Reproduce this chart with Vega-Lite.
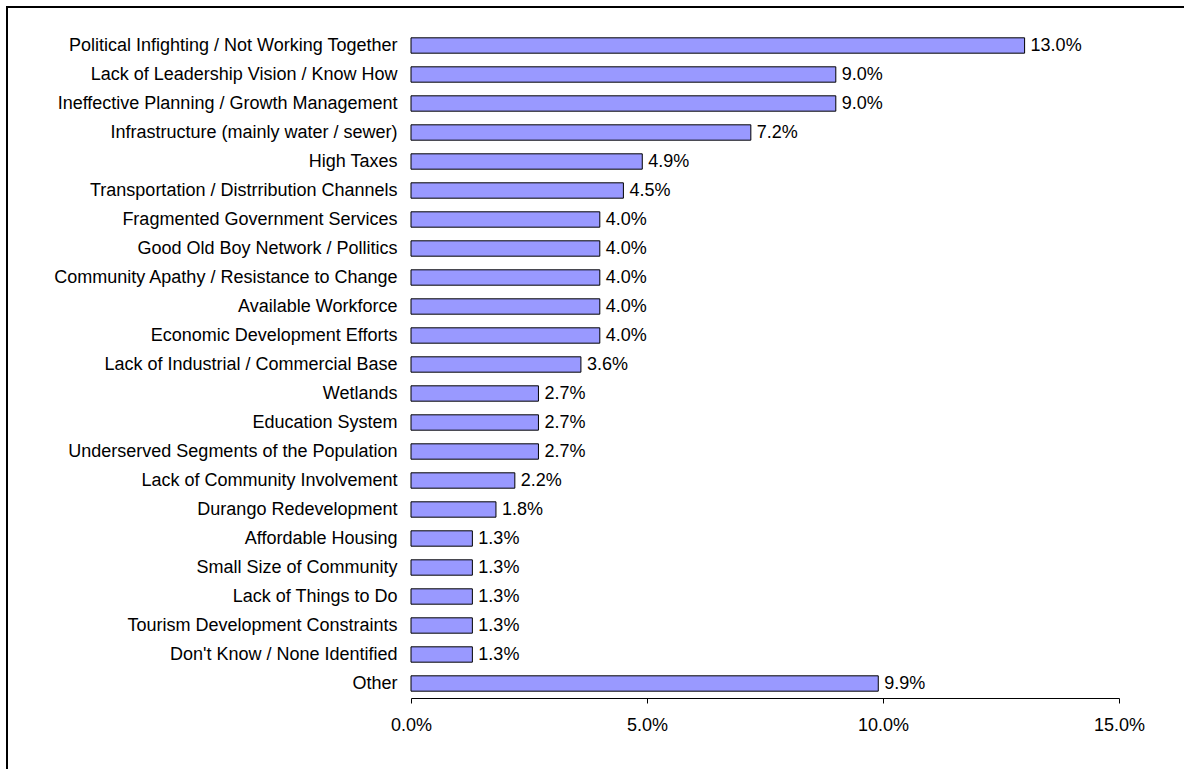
{
  "$schema": "https://vega.github.io/schema/vega-lite/v6.json",
  "width": 1178,
  "height": 764,
  "autosize": {"type": "none"},
  "padding": {"left": 7, "top": 7, "right": 0, "bottom": 0},
  "background": "white",
  "config": {
    "view": {"stroke": "black", "strokeWidth": 2},
    "font": "Liberation Sans"
  },
  "data": {
    "values": [
      {"cause": "Political Infighting / Not Working Together", "pct": 0.13},
      {"cause": "Lack of Leadership Vision / Know How", "pct": 0.09},
      {"cause": "Ineffective Planning / Growth Management", "pct": 0.09},
      {"cause": "Infrastructure (mainly water / sewer)", "pct": 0.072},
      {"cause": "High Taxes", "pct": 0.049},
      {"cause": "Transportation / Distrribution Channels", "pct": 0.045},
      {"cause": "Fragmented Government Services", "pct": 0.04},
      {"cause": "Good Old Boy Network / Pollitics", "pct": 0.04},
      {"cause": "Community Apathy / Resistance to Change", "pct": 0.04},
      {"cause": "Available Workforce", "pct": 0.04},
      {"cause": "Economic Development Efforts", "pct": 0.04},
      {"cause": "Lack of Industrial / Commercial Base", "pct": 0.036},
      {"cause": "Wetlands", "pct": 0.027},
      {"cause": "Education System", "pct": 0.027},
      {"cause": "Underserved Segments of the Population", "pct": 0.027},
      {"cause": "Lack of Community Involvement", "pct": 0.022},
      {"cause": "Durango Redevelopment", "pct": 0.018},
      {"cause": "Affordable Housing", "pct": 0.013},
      {"cause": "Small Size of Community", "pct": 0.013},
      {"cause": "Lack of Things to Do", "pct": 0.013},
      {"cause": "Tourism Development Constraints", "pct": 0.013},
      {"cause": "Don't Know / None Identified", "pct": 0.013},
      {"cause": "Other", "pct": 0.099}
    ]
  },
  "encoding": {
    "y": {
      "field": "cause",
      "type": "nominal",
      "sort": null,
      "scale": {"range": [24, 691], "paddingInner": 0.47, "paddingOuter": 0.235},
      "axis": {
        "orient": "left",
        "offset": -404,
        "title": null,
        "domain": false,
        "ticks": false,
        "labelFontSize": 18,
        "labelColor": "black",
        "labelPadding": 14,
        "labelLimit": 420
      }
    },
    "x": {
      "field": "pct",
      "type": "quantitative",
      "scale": {"domain": [0, 0.15], "range": [404, 1112]},
      "axis": {
        "orient": "bottom",
        "offset": -73,
        "title": null,
        "values": [0, 0.05, 0.1, 0.15],
        "format": ".1%",
        "grid": false,
        "domainColor": "black",
        "tickColor": "black",
        "tickSize": 5,
        "labelFontSize": 18,
        "labelColor": "black",
        "labelPadding": 13,
        "labelFlush": false
      }
    }
  },
  "layer": [
    {
      "mark": {"type": "bar", "fill": "#9999FF", "stroke": "black", "strokeWidth": 1}
    },
    {
      "mark": {"type": "text", "align": "left", "baseline": "middle", "dx": 6, "fontSize": 18, "color": "black"},
      "encoding": {
        "text": {"field": "pct", "type": "quantitative", "format": ".1%"}
      }
    }
  ]
}
